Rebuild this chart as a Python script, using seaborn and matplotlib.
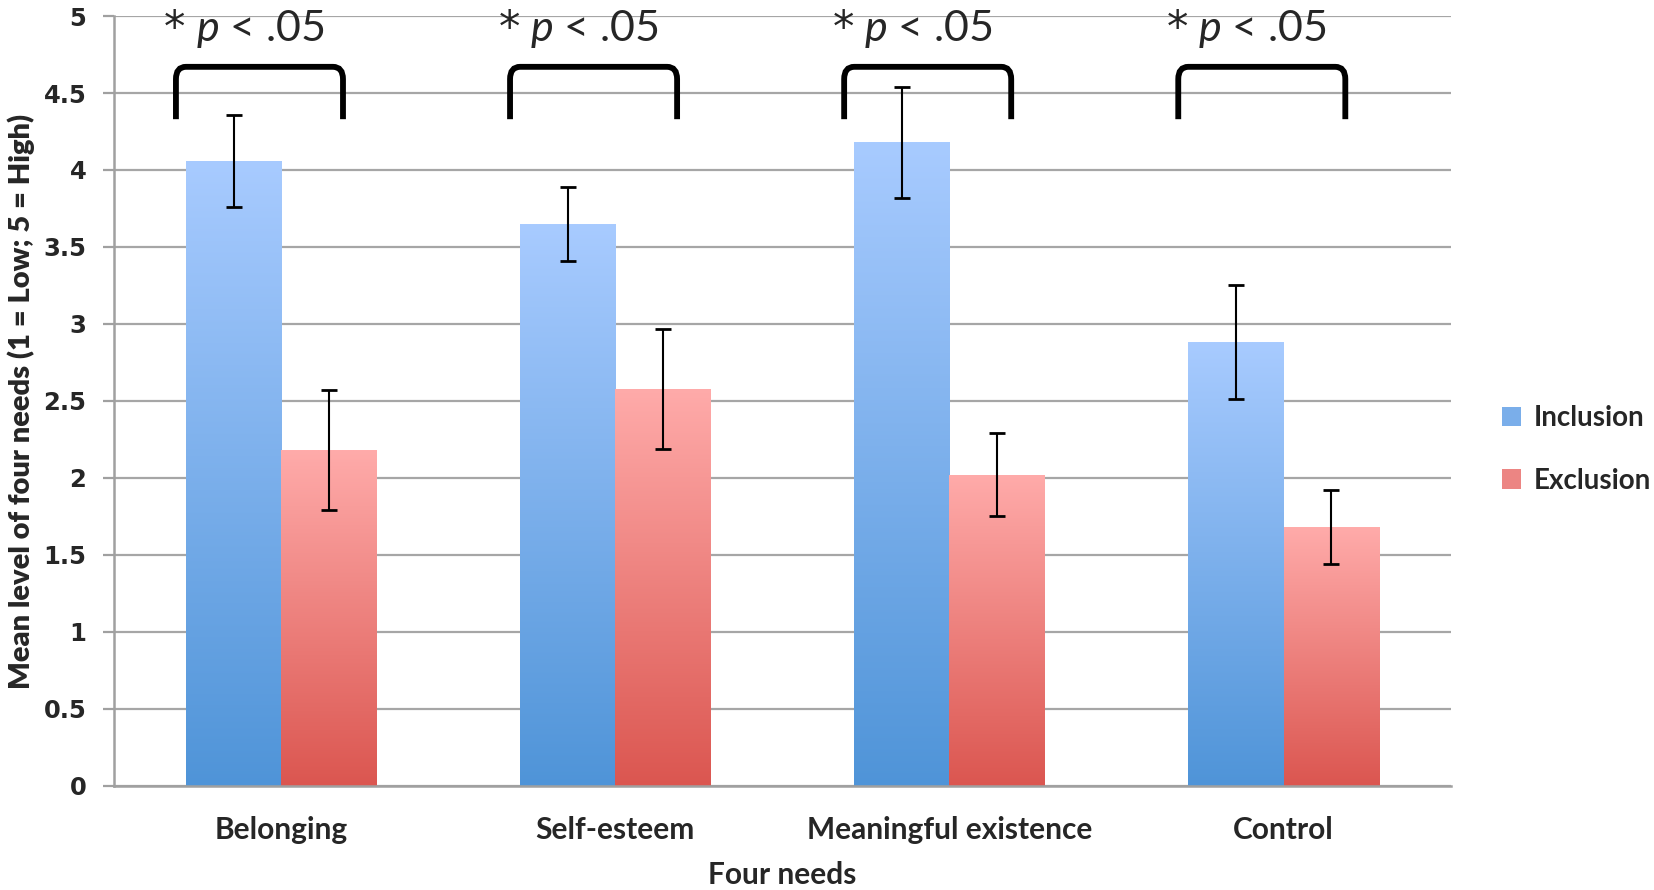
import matplotlib
matplotlib.use('Agg')
import matplotlib.pyplot as plt
import numpy as np
import pandas as pd
import seaborn as sns
from matplotlib.colors import LinearSegmentedColormap
from matplotlib.patches import Patch, PathPatch
from matplotlib.path import Path

needs = ['Belonging', 'Self-esteem', 'Meaningful existence', 'Control']
conditions = ['Inclusion', 'Exclusion']
inclusion_mean = [4.06, 3.65, 4.18, 2.88]
exclusion_mean = [2.18, 2.58, 2.02, 1.68]
inclusion_err = [0.30, 0.24, 0.36, 0.37]
exclusion_err = [0.39, 0.39, 0.27, 0.24]
sig_label = '$p$ < .05'
yticks = [0, 0.5, 1, 1.5, 2, 2.5, 3, 3.5, 4, 4.5, 5]

df = pd.DataFrame({
    'need': needs * 2,
    'condition': ['Inclusion'] * 4 + ['Exclusion'] * 4,
    'mean': inclusion_mean + exclusion_mean,
    'err': inclusion_err + exclusion_err,
})

sns.set_style('white')
plt.rcParams['font.family'] = ['Lato', 'DejaVu Sans']
plt.rcParams['mathtext.fontset'] = 'custom'
plt.rcParams['mathtext.it'] = 'Lato:italic'
plt.rcParams['mathtext.rm'] = 'Lato'

grad = {
    'Inclusion': ('#4f94d8', '#a8cbff'),
    'Exclusion': ('#db5650', '#ffabaa'),
}
mid = {'Inclusion': '#7aaeea', 'Exclusion': '#ec8583'}

fig = plt.figure(figsize=(16.54, 8.9), dpi=100)
ax = fig.add_axes([0.069, 0.117, 0.808, 0.865])

sns.barplot(data=df, x='need', y='mean', hue='condition', order=needs,
            hue_order=conditions, palette=mid, width=0.57, errorbar=None,
            ax=ax, zorder=2, legend=False)

ax.set_ylim(0, 5)
ax.set_xlim(-0.5, 3.5)

# gradient fill + error bars
for cont, cond in zip(ax.containers, conditions):
    cmap = LinearSegmentedColormap.from_list(cond, list(grad[cond]))
    sub = df[df.condition == cond].set_index('need').loc[needs]
    xs = []
    for bar in cont:
        x0 = bar.get_x()
        w = bar.get_width()
        h = bar.get_height()
        xs.append(x0 + w / 2)
        im = ax.imshow(np.linspace(0, 1, 256).reshape(-1, 1), cmap=cmap,
                       extent=[x0, x0 + w, 0, h], origin='lower',
                       aspect='auto', zorder=2)
        im.set_clip_path(bar)
        bar.set_facecolor('none')
        bar.set_edgecolor('none')
    ax.errorbar(xs, sub['mean'], yerr=sub['err'], fmt='none', ecolor='black',
                elinewidth=1.5, capsize=6, capthick=2, zorder=4)

ax.set_ylim(0, 5)
ax.set_xlim(-0.5, 3.5)

# significance brackets
for i in range(len(needs)):
    xl, xr = i - 0.315, i + 0.185
    yt, yb = 4.67, 4.33
    rx, ry = 0.03, 0.08
    verts = [(xl, yb), (xl, yt - ry), (xl, yt), (xl + rx, yt),
             (xr - rx, yt), (xr, yt), (xr, yt - ry), (xr, yb)]
    codes = [Path.MOVETO, Path.LINETO, Path.CURVE3, Path.CURVE3,
             Path.LINETO, Path.CURVE3, Path.CURVE3, Path.LINETO]
    ax.add_patch(PathPatch(Path(verts, codes), fill=False, lw=4.2,
                           edgecolor='black', capstyle='butt', zorder=5,
                           clip_on=False))
    ax.text(i - 0.255, 4.84, sig_label, fontsize=31, ha='left',
            va='baseline', clip_on=False, zorder=5)
    ax.text(i - 0.318, 4.84, '*', fontsize=31, ha='center', va='baseline',
            fontfamily='DejaVu Sans', clip_on=False, zorder=5)

# axes styling
ax.set_yticks(yticks)
ax.set_yticklabels([f'{t:g}' for t in yticks], fontfamily='DejaVu Sans',
                   fontweight='bold', fontsize=17.5)
ax.yaxis.grid(True, color='#a6a6a6', lw=1.6, zorder=0)
ax.set_axisbelow(True)
ax.set_xticks(range(len(needs)))
ax.set_xticklabels(needs, fontsize=21.5, fontweight='bold')
ax.set_xticks([-0.5, 0.5, 1.5, 2.5, 3.5], minor=True)
ax.tick_params(axis='x', which='major', length=0, pad=22)
ax.tick_params(axis='x', which='minor', length=9, width=1.6, color='#a0a0a0')
ax.tick_params(axis='y', length=8, width=1.6, color='#a0a0a0', pad=12, left=True)
sns.despine(ax=ax)
for s in ['left', 'bottom']:
    ax.spines[s].set_color('#a0a0a0')
    ax.spines[s].set_linewidth(1.8)

ax.set_xlabel('Four needs', fontsize=21.5, fontweight='bold', labelpad=12)
ax.set_ylabel('Mean level of four needs (1 = Low; 5 = High)',
              fontweight='heavy', fontsize=21, labelpad=6)

handles = [Patch(facecolor=mid[c], edgecolor='none') for c in conditions]
fig.legend(handles, conditions, loc='center left', bbox_to_anchor=(0.908, 0.495),
           frameon=False, prop={'size': 20, 'weight': 'bold'},
           handlelength=0.7, handleheight=0.7, handletextpad=0.45,
           labelspacing=1.3, borderaxespad=0, borderpad=0)

fig.savefig('out.png', dpi=100)
